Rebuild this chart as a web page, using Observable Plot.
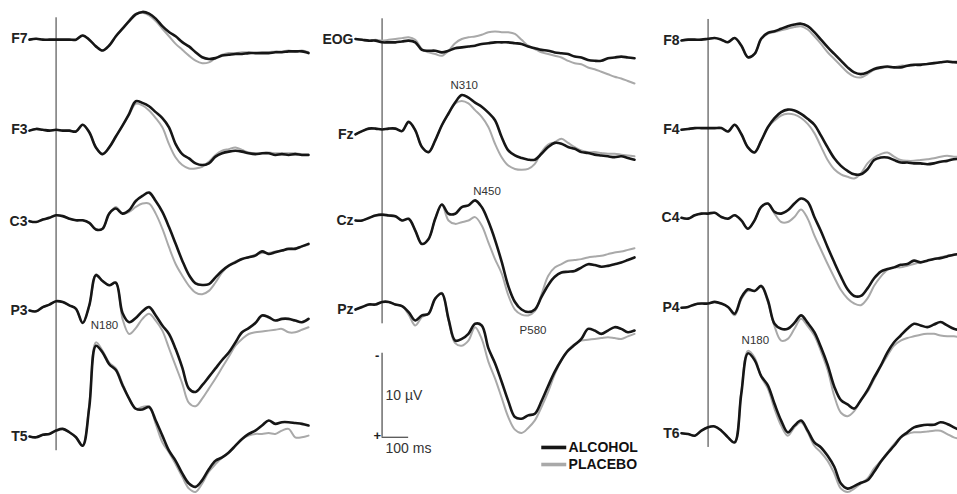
<!DOCTYPE html>
<html>
<head>
<meta charset="utf-8">
<script src="https://cdn.jsdelivr.net/npm/d3@7"></script>
<script src="https://cdn.jsdelivr.net/npm/@observablehq/plot@0.6"></script>
<style>
  html, body { margin: 0; padding: 0; overflow: hidden; background: #fff; }
  #chart { position: relative; width: 957px; height: 494px; overflow: hidden; }
</style>
</head>
<body>
<div id="chart"></div>
<script>
// ---------- DATA (µV, negative plotted upward) ----------
const times = [-100,-75,-50,-25,0,25,50,75,100,125,150,175,200,225,250,275,300,325,350,375,400,425,450,475,500,525,550,575,600,625,650,675,700,725,750,775,800,825,850,875,900,925,950];

const conditions = ["ALCOHOL", "PLACEBO"];
const leftChannels = ["F7", "F3", "C3", "P3", "T5"];
const midChannels = ["EOG", "Fz", "Cz", "Pz"];
const rightChannels = ["F8", "F4", "C4", "P4", "T6"];

const f7Alcohol = [0.1,0,0.1,0.1,0.1,0.1,0.1,0.1,-0.4,0.1,0.9,1.4,0.8,-0.3,-1.2,-2.1,-2.9,-3.2,-3.0,-2.4,-1.5,-0.8,-0.3,0.4,0.9,1.6,2.2,2.4,2.3,2.0,1.9,1.8,1.8,1.7,1.7,1.7,1.7,1.6,1.6,1.5,1.5,1.5,1.7];
const f7Placebo = [0.1,0,0.1,0.1,0.1,0.1,0.1,0.1,-0.4,0.1,0.9,1.4,0.8,-0.3,-1.2,-2.2,-3.0,-3.1,-2.8,-2.1,-1.2,-0.3,0.6,1.3,2.0,2.6,2.9,2.8,2.3,1.9,1.7,1.7,1.6,1.6,1.7,1.6,1.6,1.5,1.5,1.4,1.5,1.4,1.6];
const f3Alcohol = [0.1,-0.1,0,0.1,0,0.1,0.1,0.2,-0.6,0.3,2.1,2.9,2.1,0.8,-0.5,-1.9,-3.4,-3.2,-2.8,-2.1,-1.4,-0.3,1.7,2.9,3.4,4.0,4.2,4.0,3.2,2.8,2.6,2.5,2.6,2.8,2.9,2.8,2.8,3.0,2.9,3.0,2.9,3.0,3.0];
const f3Placebo = [0.1,-0.1,0,0.1,0,0.1,0.1,0.2,-0.6,0.3,2.1,2.9,2.1,0.8,-0.5,-1.8,-3.1,-2.9,-2.3,-1.4,-0.3,1.7,3.3,4.2,4.6,4.6,4.4,3.8,3.0,2.5,2.3,2.1,2.4,2.7,2.8,2.8,2.7,2.8,2.8,2.8,2.8,2.9,2.9];
const c3Alcohol = [0,0.1,-0.2,-0.4,-0.7,-0.6,-0.3,-0.1,-0.1,0.2,1.0,0.9,-0.9,-1.5,-0.9,-1.3,-2.4,-3.0,-3.4,-2.4,-1.1,0.7,2.7,4.7,6.4,7.4,7.6,7.5,6.7,5.9,5.3,4.9,4.5,4.3,4.1,3.6,3.9,3.7,3.5,3.3,3.3,3.0,2.7];
const c3Placebo = [0,0.1,-0.2,-0.4,-0.7,-0.6,-0.3,-0.1,-0.1,0.2,1.0,0.9,-0.9,-1.7,-0.9,-1.1,-1.7,-2.1,-2.1,-0.9,0.9,3.1,5.1,6.5,7.7,8.5,8.7,8.3,7.3,6.1,5.3,4.8,4.5,4.3,4.0,3.8,3.8,3.6,3.5,3.3,3.2,3.0,2.8];
const p3Alcohol = [0,0.1,-0.4,-0.7,-1.1,-1.0,-0.6,-0.2,1.5,-0.6,-4.2,-3.5,-3.0,-3.3,0.3,1.4,0.9,0.1,-0.4,0.6,1.8,2.8,4.6,6.8,9.3,9.7,8.9,7.9,6.9,5.9,5.0,3.8,2.6,2.1,1.5,0.6,0.8,1.2,1.0,1.0,1.2,1.4,1.0];
const p3Placebo = [0,0.1,-0.4,-0.7,-1.1,-1.0,-0.6,-0.2,1.5,-0.6,-4.3,-3.5,-3.0,-3.3,1.0,2.8,2.1,1.0,0.4,1.2,2.4,4.5,6.6,8.7,11.0,11.4,10.5,9.3,8.1,6.8,5.5,4.2,3.4,2.8,2.6,2.5,2.4,2.3,2.2,2.6,2.6,2.3,2.0];
const t5Alcohol = [0,0.1,-0.2,-0.3,-0.7,-0.9,-0.5,0.1,1.1,-3.5,-10.8,-10.0,-8.6,-7.9,-6.1,-4.5,-3.3,-3.2,-3.5,-1.9,-0.1,1.7,2.9,4.4,5.6,6.0,5.2,3.9,2.9,2.5,1.9,1.1,0.3,-0.3,-0.7,-1.3,-1.9,-1.5,-1.7,-1.7,-1.6,-1.5,-1.3];
const t5Placebo = [0,0.1,-0.2,-0.3,-0.7,-0.9,-0.5,0.1,1.1,-3.8,-11.2,-10.2,-8.8,-8.1,-6.3,-4.5,-3.3,-3.5,-3.6,-1.5,0.7,1.9,3.3,4.8,6.2,6.6,5.6,4.2,3.3,2.5,1.9,1.1,0.3,-0.1,-0.3,-0.3,-0.4,-0.3,-0.7,-0.9,0.1,0.1,-0.1];

const eogAlcohol = [-0.1,0,0.1,0.1,0.3,0.3,0.3,0.2,0.1,0.3,1.2,1.3,1.3,1.5,1.3,1.0,0.9,0.8,0.7,0.5,0.4,0.3,0.3,0.3,0.4,0.5,0.8,1.0,1.2,1.3,1.5,1.6,1.7,2.0,2.1,2.4,2.5,2.5,2.2,2.1,2.0,2.1,2.2];
const eogPlacebo = [-0.1,0,0.1,0,0.1,0,-0.1,-0.2,-0.3,0,1.1,1.5,1.7,1.9,1.3,0.4,-0.1,-0.3,-0.4,-0.6,-0.9,-1.0,-0.9,-0.9,-0.7,0,0.7,1.1,1.5,1.7,1.9,2.1,2.5,2.8,2.9,3.3,3.5,3.8,4.1,4.4,4.6,4.9,5.2];
const fzAlcohol = [0,-0.4,-0.7,-0.7,-0.6,-0.7,-0.7,-0.4,-1.5,-0.5,1.5,2.1,0.7,-1.1,-2.5,-3.8,-4.7,-4.4,-3.8,-3.3,-2.6,-1.7,0.3,1.9,2.5,2.8,3.0,3.0,2.3,1.5,1.0,1.1,1.5,1.7,2.1,2.2,2.4,2.5,2.6,2.7,2.6,2.8,3.0];
const fzPlacebo = [0,-0.4,-0.7,-0.7,-0.6,-0.7,-0.7,-0.4,-1.5,-0.5,1.5,2.1,0.7,-1.1,-2.5,-3.7,-4.0,-3.7,-2.9,-2.1,-0.9,1.1,2.7,3.7,4.1,4.2,4.1,3.5,2.1,1.2,0.9,0.5,1.0,1.5,1.9,2.1,2.1,2.2,2.3,2.3,2.4,2.5,2.6];
const czAlcohol = [0,0,-0.3,-0.6,-0.7,-0.6,-0.5,0,-0.2,1.2,2.8,2.2,-0.2,-1.9,-0.8,-0.8,-1.6,-1.8,-2.4,-1.6,0.1,2.3,4.9,7.8,9.7,10.6,10.9,10.6,9.1,7.7,6.7,6.2,6.1,6.0,5.6,5.2,5.3,5.5,5.4,5.2,5.0,4.7,4.4];
const czPlacebo = [0,0,-0.3,-0.6,-0.7,-0.6,-0.5,0,-0.2,1.2,2.8,2.2,-0.2,-1.9,0,0.4,0.2,0,-0.4,0.6,2.6,4.6,6.3,8.9,10.6,11.2,11.3,10.8,8.8,6.6,5.6,5.2,4.8,4.7,4.6,4.4,4.3,4.2,4.0,3.8,3.7,3.5,3.3];
const pzAlcohol = [0,-0.3,-0.6,-0.6,-0.9,-0.9,-0.6,-0.4,0.3,1.3,0.7,0.5,-1.3,-1.9,1.1,3.7,3.5,2.9,1.7,1.9,4.6,6.4,8.6,10.9,12.8,13.0,12.6,12.4,10.9,9.1,7.4,6.0,4.9,4.2,3.5,2.3,2.5,2.9,2.5,2.1,2.3,2.7,2.5];
const pzPlacebo = [0,-0.3,-0.6,-0.6,-0.9,-0.9,-0.6,-0.4,0.6,1.9,0.9,0.5,-1.3,-2.0,1.3,4.0,4.3,3.7,2.1,3.5,6.2,8.2,10.5,12.8,14.3,14.7,14.1,13.2,11.6,9.8,7.7,6.0,4.8,4.1,3.7,3.6,3.5,3.4,3.3,3.4,3.5,3.2,2.9];

const f8Alcohol = [0,-0.1,-0.1,-0.1,-0.2,-0.3,-0.1,0.2,-0.3,0.6,2.0,1.6,-0.2,-0.9,-1.1,-1.4,-1.7,-1.9,-2.0,-1.7,-1.0,-0.1,0.8,1.6,2.4,3.2,3.8,4.0,3.8,3.4,3.2,3.1,3.2,3.2,3.0,2.9,2.9,2.8,2.7,2.6,2.5,2.6,2.6];
const f8Placebo = [0,-0.1,-0.1,-0.1,-0.2,-0.3,-0.1,0.2,-0.3,0.6,2.0,1.6,-0.2,-0.8,-1.0,-1.2,-1.4,-1.6,-1.7,-1.3,-0.5,0.4,1.4,2.2,3.0,3.8,4.3,4.4,4.0,3.5,3.3,3.2,3.2,3.0,3.0,2.9,2.8,2.8,2.7,2.6,2.5,2.5,2.5];
const f4Alcohol = [0,-0.1,-0.2,-0.2,-0.2,-0.2,-0.2,0.2,-0.6,0.5,2.1,2.7,1.3,-0.3,-1.4,-2.1,-2.4,-2.3,-1.9,-1.3,-0.6,0.7,2.1,3.4,4.3,4.9,5.3,5.3,4.7,3.6,3.3,3.3,3.6,3.9,3.9,4.0,4.0,4.1,4.0,3.8,3.7,3.5,3.5];
const f4Placebo = [0,-0.1,-0.2,-0.2,-0.2,-0.2,-0.2,0.2,-0.6,0.5,2.1,2.7,1.3,-0.3,-1.1,-1.7,-1.9,-1.8,-1.4,-0.7,0.4,2.0,3.6,4.7,5.3,5.6,5.8,5.2,4.0,3.3,2.9,2.7,3.2,3.6,3.7,3.7,3.6,3.5,3.4,3.2,3.1,3.2,3.2];
const c4Alcohol = [0,0.1,-0.3,-0.5,-0.5,-0.6,-0.1,0.1,-0.3,0.3,1.3,0.3,-1.3,-1.7,-0.7,-0.5,-0.9,-1.7,-2.3,-1.9,-0.1,1.6,3.5,5.3,7.0,8.5,9.3,9.3,8.4,7.2,6.4,6.1,5.9,5.6,5.5,5.1,5.3,5.1,4.9,4.8,4.6,4.4,4.3];
const c4Placebo = [0,0.1,-0.3,-0.5,-0.5,-0.6,-0.1,0.1,-0.3,0.3,1.3,0.3,-1.3,-1.7,-0.5,0.5,0.5,-0.1,-1.0,0.1,2.1,3.8,5.5,7.1,8.6,9.6,10.2,10.4,9.6,8.1,7.0,6.2,5.9,5.9,5.7,5.5,5.3,5.1,4.9,4.7,4.5,4.4,4.3];
const p4Alcohol = [0,-0.1,-0.4,-0.5,-0.5,-0.7,-0.5,-0.1,0.7,-1.2,-2.2,-2.0,-2.6,-0.9,1.9,2.5,2.5,1.8,0.9,1.8,2.9,4.7,6.8,9.4,11.0,11.5,12.0,11.0,9.8,8.3,6.9,5.3,4.1,3.3,2.5,1.9,2.1,2.3,2.0,1.7,2.1,2.5,2.7];
const p4Placebo = [0,-0.1,-0.4,-0.5,-0.5,-0.7,-0.5,-0.1,0.9,-1.0,-2.0,-2.0,-2.5,-0.7,2.2,3.9,3.7,2.5,1.3,2.2,3.3,5.2,7.4,10.5,12.5,12.9,12.3,11.0,10.0,8.5,7.0,5.7,4.5,3.9,3.6,3.4,3.2,3.1,3.1,3.3,3.4,3.4,3.5];
const t6Alcohol = [0,0.1,0.3,-0.3,-0.7,-0.8,-0.3,0.5,1.1,-4.7,-9.5,-8.7,-6.8,-5.7,-3.5,-1.5,-0.1,-0.9,-1.5,-0.3,1.1,1.7,2.7,4.0,6.0,6.6,6.3,5.9,5.6,4.6,3.4,2.4,1.5,0.5,-0.1,-0.7,-0.9,-1.0,-1.0,-1.3,-1.1,-0.7,-0.3];
const t6Placebo = [0,0.1,0.3,-0.3,-0.7,-0.8,-0.3,0.5,1.1,-4.9,-9.8,-9.0,-6.7,-5.3,-2.9,-0.9,0.3,-0.7,-1.3,-0.1,1.5,2.3,3.3,4.8,6.6,7.0,6.6,6.0,5.4,4.2,3.3,2.3,1.3,0.5,0.1,-0.1,-0.1,-0.2,-0.3,-0.3,0.1,0.5,0.7];

// component labels
const peakLabels = ["N180", "N310", "N450", "P580", "N180"];
const peakChannels = ["T5", "Fz", "Cz", "Pz", "T6"];
const peakTimes = [182, 309, 395, 568, 178];
const peakLabelUV = [-13.2, -5.8, -3.5, 2.5, -11.0];

// ---------- LAYOUT ----------
const PX_PER_UV = 8.4;         // 10 µV = 84 px
const H = 494;
const columns = [leftChannels, midChannels, rightChannels];
// baseline of each trace, in µV from the top of the figure
const baselineUV = {F7: 4.56, F3: 15.39, C3: 26.27, P3: 36.90, T5: 51.90,
                    EOG: 4.68, Fz: 15.95, Cz: 26.19, Pz: 36.79,
                    F8: 4.76, F4: 15.39, C4: 25.87, P4: 36.58, T6: 51.51};
const series = {
  F7: [f7Alcohol, f7Placebo], F3: [f3Alcohol, f3Placebo], C3: [c3Alcohol, c3Placebo],
  P3: [p3Alcohol, p3Placebo], T5: [t5Alcohol, t5Placebo],
  EOG: [eogAlcohol, eogPlacebo], Fz: [fzAlcohol, fzPlacebo], Cz: [czAlcohol, czPlacebo], Pz: [pzAlcohol, pzPlacebo],
  F8: [f8Alcohol, f8Placebo], F4: [f4Alcohol, f4Placebo], C4: [c4Alcohol, c4Placebo],
  P4: [p4Alcohol, p4Placebo], T6: [t6Alcohol, t6Placebo]
};
const colOf = {};
columns.forEach((chs, c) => chs.forEach(ch => colOf[ch] = c));

const rows = [];
for (const ch of Object.keys(series)) {
  series[ch].forEach((vals, k) => {
    vals.forEach((v, i) => rows.push({
      channel: ch, col: colOf[ch], cond: conditions[k], t: times[i], v,
      y: baselineUV[ch] + v, key: ch + "-" + conditions[k]
    }));
  });
}
const labelRows = Object.keys(series).map(ch => ({channel: ch, col: colOf[ch], y: baselineUV[ch]}));
const stimRows = columns.map((chs, c) => ({
  col: c, top: baselineUV[chs[0]] - 2.5, bottom: baselineUV[chs[chs.length - 1]] + 1.7
}));
const peakRows = peakLabels.map((lab, i) => ({
  label: lab, col: colOf[peakChannels[i]], t: peakTimes[i], y: baselineUV[peakChannels[i]] + peakLabelUV[i]
}));

// scale bar (middle column): 10 µV by 100 ms
const scaleBottom = 52.0, scaleUV = 10, scaleMs = 100;
const scaleRows = [{col: 1, t0: 0, t1: scaleMs, top: scaleBottom - scaleUV, bottom: scaleBottom}];
const scaleText = [
  {col: 1, t: -18, y: scaleBottom - scaleUV + 0.35, text: "-", anchor: "middle", w: "bold"},
  {col: 1, t: -18, y: scaleBottom - 0.15, text: "+", anchor: "middle", w: "bold"},
  {col: 1, t: 13, y: scaleBottom - scaleUV / 2, text: "10 µV", anchor: "start", w: "normal"},
  {col: 1, t: 13, y: scaleBottom + 1.33, text: "100 ms", anchor: "start", w: "normal"}
];
// legend (middle column, lower right)
const legendRows = conditions.map((c, i) => ({col: 1, cond: c, t0: 601, t1: 695, tText: 702, y: 53.21 + i * 2.03}));
const colorOf = {ALCOHOL: "#161616", PLACEBO: "#a9a9a9"};

const font = "'Liberation Sans', Arial, Helvetica, sans-serif";

const chart = Plot.plot({
  width: 962, height: H,
  marginLeft: 28, marginRight: 0, marginTop: 0, marginBottom: 0,
  style: {fontFamily: font, background: "white", maxWidth: "none", overflow: "visible"},
  x: {domain: [-100, 950], axis: null},
  y: {domain: [0, H / PX_PER_UV], range: [0, H], axis: null},
  fx: {domain: [0, 1, 2], paddingInner: 0.1428, paddingOuter: 0, axis: null},
  marks: [
    Plot.ruleX(stimRows, {fx: "col", x: 0, y1: "top", y2: "bottom", stroke: "#333", strokeWidth: 1}),
    Plot.line(rows.filter(d => d.cond === "PLACEBO"), {
      fx: "col", x: "t", y: "y", z: "key", stroke: colorOf.PLACEBO, strokeWidth: 2, curve: "catmull-rom"
    }),
    Plot.line(rows.filter(d => d.cond === "ALCOHOL"), {
      fx: "col", x: "t", y: "y", z: "key", stroke: colorOf.ALCOHOL, strokeWidth: 2.6, curve: "catmull-rom"
    }),
    Plot.text(labelRows, {
      fx: "col", x: -100, y: "y", text: "channel", textAnchor: "end", dx: -2,
      fontWeight: "bold", fontSize: 14, fill: "#222"
    }),
    Plot.text(peakRows, {fx: "col", x: "t", y: "y", text: "label", fontSize: 11.5, fill: "#333"}),
    Plot.ruleX(scaleRows, {fx: "col", x: "t0", y1: "top", y2: "bottom", stroke: "#555", strokeWidth: 1.3}),
    Plot.ruleY(scaleRows, {fx: "col", y: "bottom", x1: "t0", x2: "t1", stroke: "#555", strokeWidth: 1.3}),
    Plot.text(scaleText.filter(d => d.w === "bold"), {
      fx: "col", x: "t", y: "y", text: "text", textAnchor: "middle", fontSize: 13, fontWeight: "bold", fill: "#222"
    }),
    Plot.text(scaleText.filter(d => d.w === "normal"), {
      fx: "col", x: "t", y: "y", text: "text", textAnchor: "start", fontSize: 14, fill: "#333"
    }),
    Plot.ruleY(legendRows, {fx: "col", y: "y", x1: "t0", x2: "t1", stroke: d => colorOf[d.cond], strokeWidth: 3.6}),
    Plot.text(legendRows, {
      fx: "col", x: "tText", y: "y", text: "cond", textAnchor: "start", fontSize: 14, fontWeight: "bold", fill: "#111"
    })
  ]
});
document.getElementById("chart").appendChild(chart);
</script>
</body>
</html>
